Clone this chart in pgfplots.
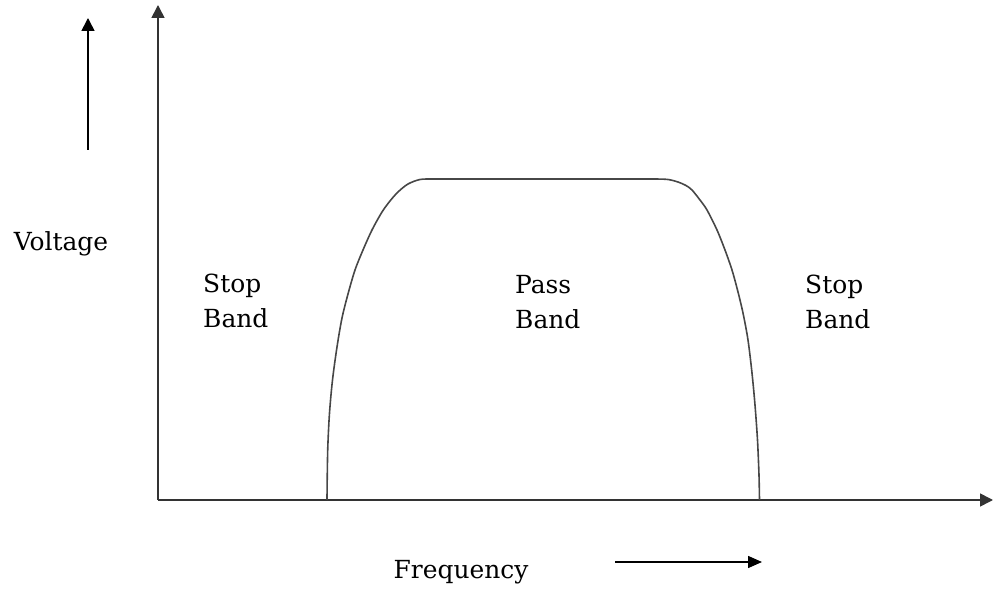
\documentclass[border=0pt]{standalone}
\usepackage{pgfplots}
\pgfplotsset{compat=1.18}
\usepackage{fontspec}
\setmainfont{DejaVu Serif}
\usetikzlibrary{arrows.meta}
\begin{document}
\begin{tikzpicture}
\begin{axis}[
  at={(158bp,90bp)}, anchor=origin,
  x=1bp, y=1bp,
  xmin=0, xmax=835, ymin=0, ymax=495,
  enlargelimits=false,
  axis lines=left,
  axis line style={line width=1.6bp, black!80, -{Triangle[length=13bp,width=13bp]}},
  xtick=\empty, ytick=\empty,
  clip=false,
]
\addplot[line width=1.6bp, black!72, smooth, tension=0.5] coordinates {
(169,0)(169.2,20)(169.8,53)(171.5,87)(174.5,120)(179,153)(184,182)(190,206)(197,230)(205,250)(214,270)(224,288)(232,299)(240,308)(250,316)(262,320.5)(275,321)(290,321)
(480,321)(497,321)(510,320.5)(520,318)(528,314.5)(534,310)(542,300)(549,290)(559,270)(567,250)(574,230)(579.5,210)(585,187)(590,160)(594,127)(597,95)(599.5,60)(601,25)(601.5,0)
};
\node[font=\fontsize{25}{35}\selectfont] at (axis cs:-97,256) {Voltage};
\node[font=\fontsize{25}{35}\selectfont] at (axis cs:303,-72) {Frequency};
\node[anchor=west, align=left, inner sep=0pt, font=\fontsize{25}{35}\selectfont] at (axis cs:45,199) {Stop\\Band};
\node[anchor=west, align=left, inner sep=0pt, font=\fontsize{25}{35}\selectfont] at (axis cs:357,198) {Pass\\Band};
\node[anchor=west, align=left, inner sep=0pt, font=\fontsize{25}{35}\selectfont] at (axis cs:647,198) {Stop\\Band};
\draw[line width=1.6bp, -{Triangle[length=13bp,width=13bp]}] (axis cs:-70,350) -- (axis cs:-70,482);
\draw[line width=1.6bp, -{Triangle[length=14bp,width=12bp]}] (axis cs:457,-62) -- (axis cs:604,-62);
\end{axis}
\pgfresetboundingbox
\path[use as bounding box] (0,0) rectangle (997bp,590bp);
\end{tikzpicture}
\end{document}
